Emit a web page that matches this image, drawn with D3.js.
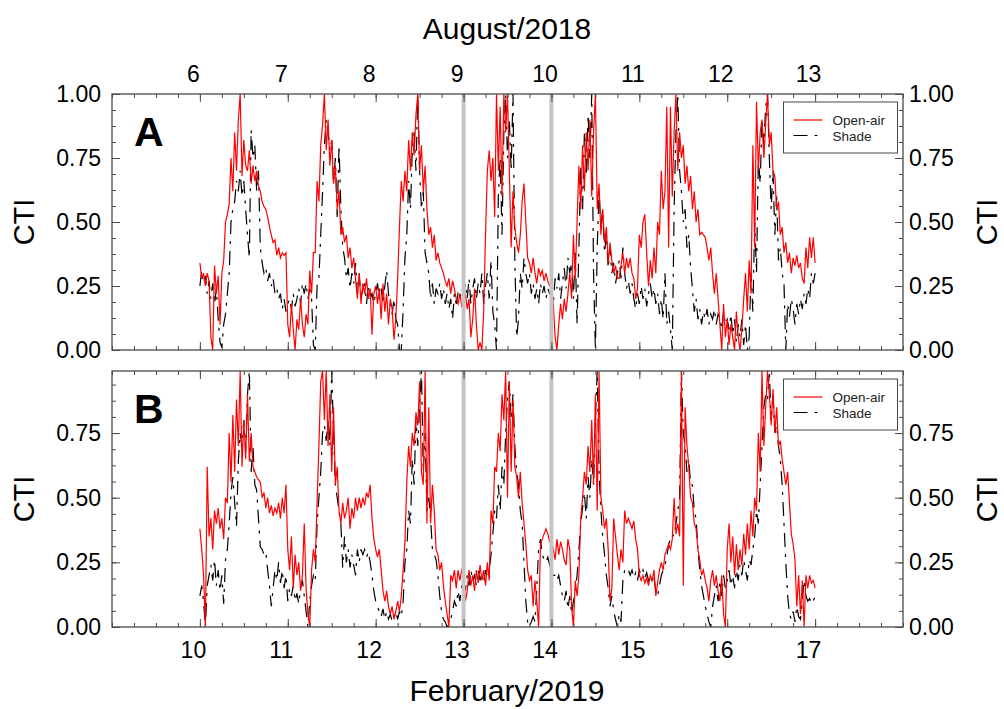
<!DOCTYPE html>
<html>
<head>
<meta charset="utf-8">
<script src="https://cdn.jsdelivr.net/npm/d3@7"></script>
<style>
  body { margin: 0; background: #fff; }
  svg { font-family: "Liberation Sans", Arial, sans-serif; }
</style>
</head>
<body>
<svg id="chart" width="1004" height="709"></svg>
<script>
// ---- data (CTI, one value every 30 min, 7 days) ----
const daysAug = [6, 7, 8, 9, 10, 11, 12, 13];
const daysFeb = [10, 11, 12, 13, 14, 15, 16, 17];
const ticksA = [0, 0.25, 0.5, 0.75, 1];
const ticksB = [0, 0.25, 0.5, 0.75];
const markersAug = [9, 10];
const markersFeb = [13, 14];
const seriesNames = ['Open-air', 'Shade'];

const openAirAug = [
  0.34,0.28,0.30,0.25,0.30,0.27,0.05,0.00,0.33,0.22,0.29,0.10,0.30,0.35,0.50,0.53,0.57,0.75,0.62,0.85,0.70,0.90,1.00,0.68,0.82,0.72,0.70,0.78,0.65,0.72,0.66,0.70,0.64,0.62,0.58,0.56,0.55,0.52,0.48,0.45,0.42,0.43,0.37,0.40,0.36,0.38,0.37,0.38,
  0.10,0.05,0.18,0.08,0.00,0.12,0.08,0.20,0.10,0.05,0.14,0.10,0.31,0.22,0.38,0.38,0.66,0.58,0.80,0.88,1.00,0.78,0.90,0.72,0.82,0.65,0.72,0.55,0.62,0.45,0.48,0.42,0.45,0.36,0.40,0.32,0.36,0.28,0.20,0.30,0.18,0.26,0.22,0.28,0.20,0.24,0.06,0.22,
  0.25,0.18,0.24,0.12,0.26,0.15,0.22,0.10,0.20,0.16,0.04,0.12,0.28,0.48,0.66,0.58,0.70,0.62,0.82,0.70,0.85,0.76,0.92,1.00,0.70,0.80,0.62,0.72,0.55,0.45,0.48,0.40,0.45,0.35,0.38,0.34,0.32,0.30,0.27,0.25,0.28,0.22,0.27,0.24,0.20,0.18,0.22,0.17,
  0.18,0.22,0.16,0.20,0.05,0.12,0.24,0.10,0.00,0.03,0.00,0.15,0.45,0.70,0.78,0.66,0.75,0.52,1.00,0.70,0.95,0.60,1.00,0.85,1.00,0.70,0.40,0.62,0.48,0.42,0.38,0.45,0.58,0.65,0.50,0.36,0.34,0.30,0.36,0.30,0.26,0.32,0.29,0.31,0.27,0.30,0.27,0.25,
  0.25,0.18,0.05,0.00,0.10,0.18,0.12,0.20,0.15,0.22,0.30,0.20,0.45,0.28,0.50,0.72,0.55,0.80,0.62,0.85,0.70,0.90,0.60,0.85,1.00,0.55,0.65,0.45,0.55,0.42,0.48,0.34,0.42,0.35,0.30,0.33,0.28,0.28,0.33,0.38,0.30,0.36,0.32,0.36,0.30,0.28,0.20,0.24,
  0.45,0.40,0.50,0.53,0.38,0.25,0.35,0.28,0.40,0.30,0.50,0.45,0.70,0.55,0.62,0.95,0.40,0.95,0.60,0.85,1.00,0.70,0.85,0.75,0.80,0.65,0.72,0.62,0.68,0.55,0.62,0.50,0.55,0.45,0.46,0.45,0.44,0.40,0.35,0.40,0.30,0.22,0.30,0.20,0.10,0.00,0.18,0.05,
  0.12,0.02,0.10,0.05,0.00,0.15,0.05,0.00,0.08,0.20,0.30,0.15,0.35,0.22,0.80,0.40,0.97,0.70,0.85,0.90,0.75,0.88,1.00,0.80,0.85,0.70,0.68,0.55,0.58,0.45,0.48,0.38,0.42,0.34,0.38,0.30,0.36,0.33,0.37,0.32,0.34,0.28,0.26,0.40,0.32,0.44,0.36,0.44,
  0.34
];

const shadeAug = [
  0.25,0.31,0.26,0.29,0.22,0.27,0.20,0.26,0.18,0.24,0.12,0.03,0.01,0.10,0.14,0.22,0.30,0.50,0.55,0.58,0.66,0.62,0.70,0.60,0.66,0.55,0.45,0.36,0.86,0.75,0.80,0.62,0.70,0.40,0.34,0.30,0.32,0.27,0.30,0.25,0.28,0.22,0.24,0.20,0.22,0.16,0.20,0.15,
  0.18,0.20,0.16,0.22,0.17,0.20,0.24,0.18,0.26,0.22,0.26,0.20,0.24,0.20,0.02,0.00,0.25,0.28,0.45,0.62,0.80,0.90,0.85,0.78,0.82,0.65,0.75,0.52,0.80,0.55,0.40,0.36,0.28,0.32,0.24,0.30,0.26,0.34,0.22,0.30,0.20,0.24,0.26,0.18,0.25,0.20,0.22,0.18,
  0.22,0.26,0.20,0.24,0.18,0.25,0.31,0.22,0.18,0.14,0.20,0.12,0.10,0.00,0.00,0.16,0.36,0.45,0.66,0.55,0.78,0.85,0.70,1.00,0.70,0.55,0.62,0.38,0.34,0.30,0.20,0.26,0.18,0.24,0.22,0.26,0.20,0.24,0.18,0.22,0.16,0.20,0.12,0.22,0.18,0.22,0.20,0.24,
  0.22,0.26,0.20,0.28,0.18,0.24,0.28,0.20,0.26,0.22,0.30,0.18,0.25,0.30,0.20,0.35,0.15,0.10,0.00,0.60,0.75,0.45,0.85,1.00,0.75,0.90,0.70,1.00,0.35,0.05,0.12,0.30,0.24,0.36,0.30,0.26,0.30,0.22,0.26,0.20,0.24,0.18,0.26,0.22,0.25,0.20,0.24,0.22,
  0.22,0.18,0.28,0.24,0.30,0.20,0.26,0.32,0.24,0.36,0.30,0.34,0.20,0.38,0.10,0.40,0.72,0.55,0.85,0.68,0.92,0.75,1.00,0.30,0.00,0.40,0.62,0.48,0.55,0.38,0.45,0.32,0.40,0.30,0.34,0.26,0.30,0.35,0.28,0.40,0.30,0.24,0.27,0.22,0.26,0.20,0.16,0.22,
  0.18,0.25,0.20,0.24,0.17,0.22,0.26,0.20,0.24,0.18,0.22,0.14,0.20,0.12,0.30,0.10,0.15,0.08,0.00,0.55,0.85,1.00,0.70,0.62,0.50,0.55,0.40,0.45,0.32,0.24,0.15,0.20,0.12,0.16,0.10,0.15,0.12,0.16,0.10,0.14,0.12,0.16,0.10,0.14,0.12,0.08,0.15,0.10,
  0.12,0.08,0.14,0.06,0.12,0.03,0.10,0.05,0.12,0.02,0.10,0.00,0.05,0.30,0.15,0.50,0.30,0.75,0.65,0.90,0.80,0.95,1.00,0.75,0.55,0.70,0.45,0.60,0.35,0.40,0.30,0.26,0.00,0.18,0.13,0.20,0.16,0.10,0.18,0.14,0.20,0.16,0.22,0.18,0.24,0.20,0.30,0.26,
  0.30
];

const openAirFeb = [
  0.38,0.30,0.20,0.00,0.62,0.35,0.42,0.30,0.45,0.40,0.46,0.38,0.42,0.34,0.50,0.48,0.75,0.56,0.82,0.60,0.88,0.70,0.99,0.62,0.80,0.65,0.90,0.64,0.75,0.62,0.60,0.58,0.57,0.56,0.50,0.52,0.46,0.50,0.44,0.47,0.43,0.46,0.44,0.48,0.42,0.50,0.44,0.55,
  0.30,0.22,0.35,0.15,0.28,0.20,0.25,0.14,0.20,0.40,0.15,0.05,0.00,0.22,0.30,0.25,0.48,0.70,0.95,0.99,0.80,0.99,0.70,0.90,0.60,0.85,0.55,0.62,0.45,0.40,0.48,0.42,0.45,0.50,0.38,0.46,0.42,0.50,0.45,0.50,0.46,0.50,0.47,0.52,0.50,0.55,0.42,0.34,
  0.30,0.27,0.30,0.22,0.14,0.10,0.14,0.08,0.05,0.08,0.03,0.06,0.10,0.06,0.12,0.22,0.33,0.56,0.70,0.62,0.75,0.70,0.83,0.78,0.95,0.60,0.55,0.99,0.40,0.85,0.40,0.55,0.45,0.30,0.28,0.22,0.25,0.16,0.10,0.05,0.00,0.20,0.18,0.22,0.15,0.22,0.18,0.22,
  0.20,0.10,0.14,0.22,0.16,0.20,0.14,0.22,0.17,0.24,0.18,0.22,0.16,0.25,0.18,0.45,0.40,0.62,0.60,0.75,0.68,0.90,0.80,0.99,0.50,0.95,0.60,0.88,0.62,0.58,0.50,0.60,0.48,0.40,0.32,0.22,0.18,0.20,0.08,0.18,0.10,0.00,0.32,0.34,0.36,0.38,0.36,0.33,
  0.33,0.30,0.26,0.34,0.28,0.33,0.30,0.26,0.24,0.34,0.30,0.08,0.00,0.18,0.12,0.20,0.42,0.50,0.60,0.55,0.70,0.60,0.80,0.55,0.90,0.45,0.99,0.50,0.45,0.38,0.42,0.30,0.10,0.15,0.42,0.35,0.28,0.22,0.30,0.25,0.45,0.40,0.42,0.40,0.38,0.41,0.34,0.30,
  0.20,0.18,0.20,0.17,0.19,0.16,0.20,0.18,0.22,0.12,0.17,0.22,0.25,0.22,0.28,0.30,0.32,0.30,0.34,0.50,0.36,0.40,0.35,0.99,0.16,0.85,0.70,0.62,0.50,0.48,0.40,0.38,0.30,0.26,0.20,0.22,0.18,0.15,0.10,0.18,0.22,0.16,0.20,0.14,0.10,0.20,0.05,0.00,
  0.30,0.40,0.25,0.35,0.20,0.32,0.22,0.30,0.24,0.36,0.28,0.40,0.30,0.45,0.35,0.50,0.45,0.75,0.60,0.99,0.70,0.85,0.99,0.90,0.78,0.92,0.75,0.85,0.70,0.72,0.65,0.60,0.55,0.60,0.48,0.36,0.32,0.26,0.08,0.20,0.05,0.18,0.00,0.20,0.15,0.20,0.17,0.18,
  0.15
];

const shadeFeb = [
  0.12,0.16,0.10,0.00,0.16,0.20,0.24,0.18,0.26,0.16,0.22,0.14,0.20,0.09,0.26,0.30,0.40,0.52,0.58,0.48,0.39,0.64,0.75,0.70,0.80,0.68,0.90,0.99,0.60,0.70,0.55,0.53,0.42,0.31,0.30,0.28,0.29,0.22,0.16,0.08,0.15,0.22,0.18,0.25,0.17,0.22,0.15,0.20,
  0.10,0.15,0.12,0.16,0.10,0.13,0.09,0.15,0.18,0.12,0.06,0.00,0.10,0.16,0.20,0.18,0.40,0.50,0.60,0.75,0.78,0.72,0.80,0.70,0.99,0.75,0.55,0.50,0.45,0.40,0.23,0.35,0.25,0.30,0.23,0.28,0.24,0.20,0.30,0.25,0.30,0.28,0.30,0.27,0.29,0.25,0.20,0.14,
  0.10,0.08,0.06,0.04,0.07,0.03,0.06,0.03,0.05,0.02,0.04,0.06,0.03,0.06,0.04,0.10,0.25,0.30,0.45,0.40,0.65,0.55,0.80,0.70,0.85,0.99,0.60,0.75,0.45,0.50,0.42,0.30,0.28,0.26,0.20,0.12,0.06,0.03,0.02,0.00,0.01,0.03,0.06,0.10,0.08,0.14,0.10,0.16,
  0.18,0.14,0.20,0.16,0.22,0.18,0.20,0.16,0.22,0.18,0.21,0.17,0.22,0.19,0.22,0.28,0.36,0.45,0.42,0.55,0.45,0.62,0.55,0.75,0.88,0.95,0.80,0.90,0.70,0.60,0.55,0.45,0.40,0.25,0.10,0.02,0.00,0.02,0.04,0.02,0.15,0.30,0.34,0.28,0.26,0.25,0.27,0.24,
  0.22,0.20,0.20,0.18,0.20,0.16,0.12,0.10,0.14,0.07,0.12,0.05,0.10,0.13,0.20,0.30,0.40,0.46,0.52,0.42,0.58,0.50,0.65,0.55,0.80,0.99,0.60,0.45,0.35,0.28,0.20,0.15,0.08,0.12,0.06,0.03,0.00,0.05,0.02,0.18,0.22,0.21,0.22,0.20,0.22,0.19,0.21,0.18,
  0.22,0.20,0.22,0.19,0.21,0.18,0.20,0.17,0.19,0.14,0.12,0.16,0.20,0.22,0.24,0.27,0.32,0.34,0.36,0.35,0.40,0.45,0.50,0.99,0.75,0.70,0.60,0.65,0.55,0.55,0.45,0.42,0.30,0.22,0.16,0.12,0.08,0.05,0.02,0.00,0.08,0.12,0.16,0.10,0.18,0.12,0.20,0.15,
  0.18,0.22,0.16,0.20,0.15,0.22,0.18,0.24,0.20,0.26,0.22,0.18,0.26,0.24,0.30,0.35,0.45,0.40,0.55,0.70,0.85,0.90,0.88,0.99,0.80,0.90,0.75,0.78,0.70,0.65,0.55,0.40,0.25,0.12,0.05,0.03,0.06,0.02,0.08,0.04,0.03,0.10,0.18,0.12,0.10,0.11,0.09,0.10,
  0.12
];

// ---- layout ----
const svg = d3.select('#chart');
const left = 112, right = 903, plotH = 256;
const stepDays = 1 / 48; // 30 min
const frameColor = '#4a4a4a';
const shadeDash = '14,7,3,7';

const panels = [
  { label: 'A', top: 94, xDomain: [5, 14], start: 6, yMax: 1, ticks: ticksA,
    days: daysAug, dayAxis: 'top', markers: markersAug, open: openAirAug, shade: shadeAug },
  { label: 'B', top: 371, xDomain: [9, 18], start: 10, yMax: 0.99, ticks: ticksB,
    days: daysFeb, dayAxis: 'bottom', markers: markersFeb, open: openAirFeb, shade: shadeFeb },
];

panels.forEach((p, pi) => {
  const bottom = p.top + plotH;
  const x = d3.scaleLinear().domain(p.xDomain).range([left, right]);
  const y = d3.scaleLinear().domain([0, p.yMax]).range([bottom, p.top]);
  const g = svg.append('g');

  // clip for the data lines
  g.append('clipPath').attr('id', 'clip' + pi)
    .append('rect').attr('x', left).attr('y', p.top).attr('width', right - left).attr('height', plotH);

  const lineGen = d3.line()
    .x((d, i) => x(p.start + i * stepDays))
    .y((d) => y(d));

  const lines = g.append('g').attr('clip-path', `url(#clip${pi})`);
  lines.append('path').datum(p.shade)
    .attr('d', lineGen).attr('fill', 'none')
    .attr('stroke', '#000').attr('stroke-width', 1.2)
    .attr('stroke-dasharray', shadeDash);
  lines.append('path').datum(p.open)
    .attr('d', lineGen).attr('fill', 'none')
    .attr('stroke', '#ff0000').attr('stroke-width', 1.2);

  // grey day markers
  g.selectAll('.marker').data(p.markers).enter().append('line')
    .attr('x1', (d) => x(d)).attr('x2', (d) => x(d))
    .attr('y1', p.top).attr('y2', bottom)
    .attr('stroke', '#c4c4c4').attr('stroke-width', 4);

  // minor ticks (every 6 h and every 1/16 CTI)
  const minorX = d3.range(p.xDomain[0], p.xDomain[1] + 0.001, 0.25);
  const minorY = d3.range(0, p.yMax + 0.001, 0.0625);
  const styleAxis = (sel) => {
    sel.select('.domain').remove();
    sel.selectAll('line').attr('stroke', frameColor);
    sel.selectAll('text').attr('fill', '#000').style('font-size', '23px')
      .style('font-family', '"Liberation Sans", Arial, sans-serif');
  };
  [['axisTop', p.top], ['axisBottom', bottom]].forEach(([fn, yy]) => {
    g.append('g').attr('transform', `translate(0,${yy})`)
      .call(d3[fn](x).tickValues(minorX).tickSize(-4).tickFormat(''))
      .call(styleAxis);
  });
  [['axisLeft', left], ['axisRight', right]].forEach(([fn, xx]) => {
    g.append('g').attr('transform', `translate(${xx},0)`)
      .call(d3[fn](y).tickValues(minorY).tickSize(-4).tickFormat(''))
      .call(styleAxis);
  });

  // major day ticks, labelled on one side only
  const topAx = g.append('g').attr('transform', `translate(0,${p.top})`)
    .call(d3.axisTop(x).tickValues(p.days).tickSize(-8).tickPadding(12)
      .tickFormat(p.dayAxis === 'top' ? d3.format('d') : ''))
    .call(styleAxis);
  const botAx = g.append('g').attr('transform', `translate(0,${bottom})`)
    .call(d3.axisBottom(x).tickValues(p.days).tickSize(-8).tickPadding(15)
      .tickFormat(p.dayAxis === 'bottom' ? d3.format('d') : ''))
    .call(styleAxis);
  topAx.selectAll('text').attr('dx', -7);
  botAx.selectAll('text').attr('dx', -7);

  // CTI axes, both sides labelled
  g.append('g').attr('transform', `translate(${left},0)`)
    .call(d3.axisLeft(y).tickValues(p.ticks).tickSize(-8).tickPadding(11).tickFormat(d3.format('.2f')))
    .call(styleAxis);
  g.append('g').attr('transform', `translate(${right},0)`)
    .call(d3.axisRight(y).tickValues(p.ticks).tickSize(-8).tickPadding(6).tickFormat(d3.format('.2f')))
    .call(styleAxis);

  // frame
  g.append('rect').attr('x', left).attr('y', p.top)
    .attr('width', right - left).attr('height', plotH)
    .attr('fill', 'none').attr('stroke', frameColor).attr('stroke-width', 1.3);

  // panel letter
  g.append('text').attr('x', 134).attr('y', p.top + 52)
    .style('font-size', '41px').style('font-weight', 'bold').text(p.label);

  // CTI titles
  const midY = (p.top + bottom) / 2;
  g.append('text').attr('transform', `translate(34,${midY}) rotate(-90)`)
    .attr('text-anchor', 'middle').style('font-size', '29px').text('CTI');
  g.append('text').attr('transform', `translate(997,${midY}) rotate(-90)`)
    .attr('text-anchor', 'middle').style('font-size', '29px').text('CTI');

  // legend
  const lg = g.append('g').attr('transform', `translate(783.5,${p.top + 8})`);
  lg.append('rect').attr('width', 114).attr('height', 51)
    .attr('fill', '#fff').attr('stroke', frameColor).attr('stroke-width', 1);
  const rows = [
    { name: seriesNames[0], color: '#ff0000', dash: null },
    { name: seriesNames[1], color: '#000', dash: shadeDash },
  ];
  rows.forEach((r, i) => {
    const ly = 18 + i * 15.5;
    lg.append('line').attr('x1', 10).attr('x2', 39).attr('y1', ly).attr('y2', ly)
      .attr('stroke', r.color).attr('stroke-width', 1.2)
      .attr('stroke-dasharray', r.dash);
    lg.append('text').attr('x', 49).attr('y', ly + 5)
      .style('font-size', '13.5px').attr('fill', '#222').text(r.name);
  });
});

// month titles
svg.append('text').attr('x', 507).attr('y', 39).attr('text-anchor', 'middle')
  .style('font-size', '30px').text('August/2018');
svg.append('text').attr('x', 507).attr('y', 701).attr('text-anchor', 'middle')
  .style('font-size', '30px').text('February/2019');
</script>
</body>
</html>
